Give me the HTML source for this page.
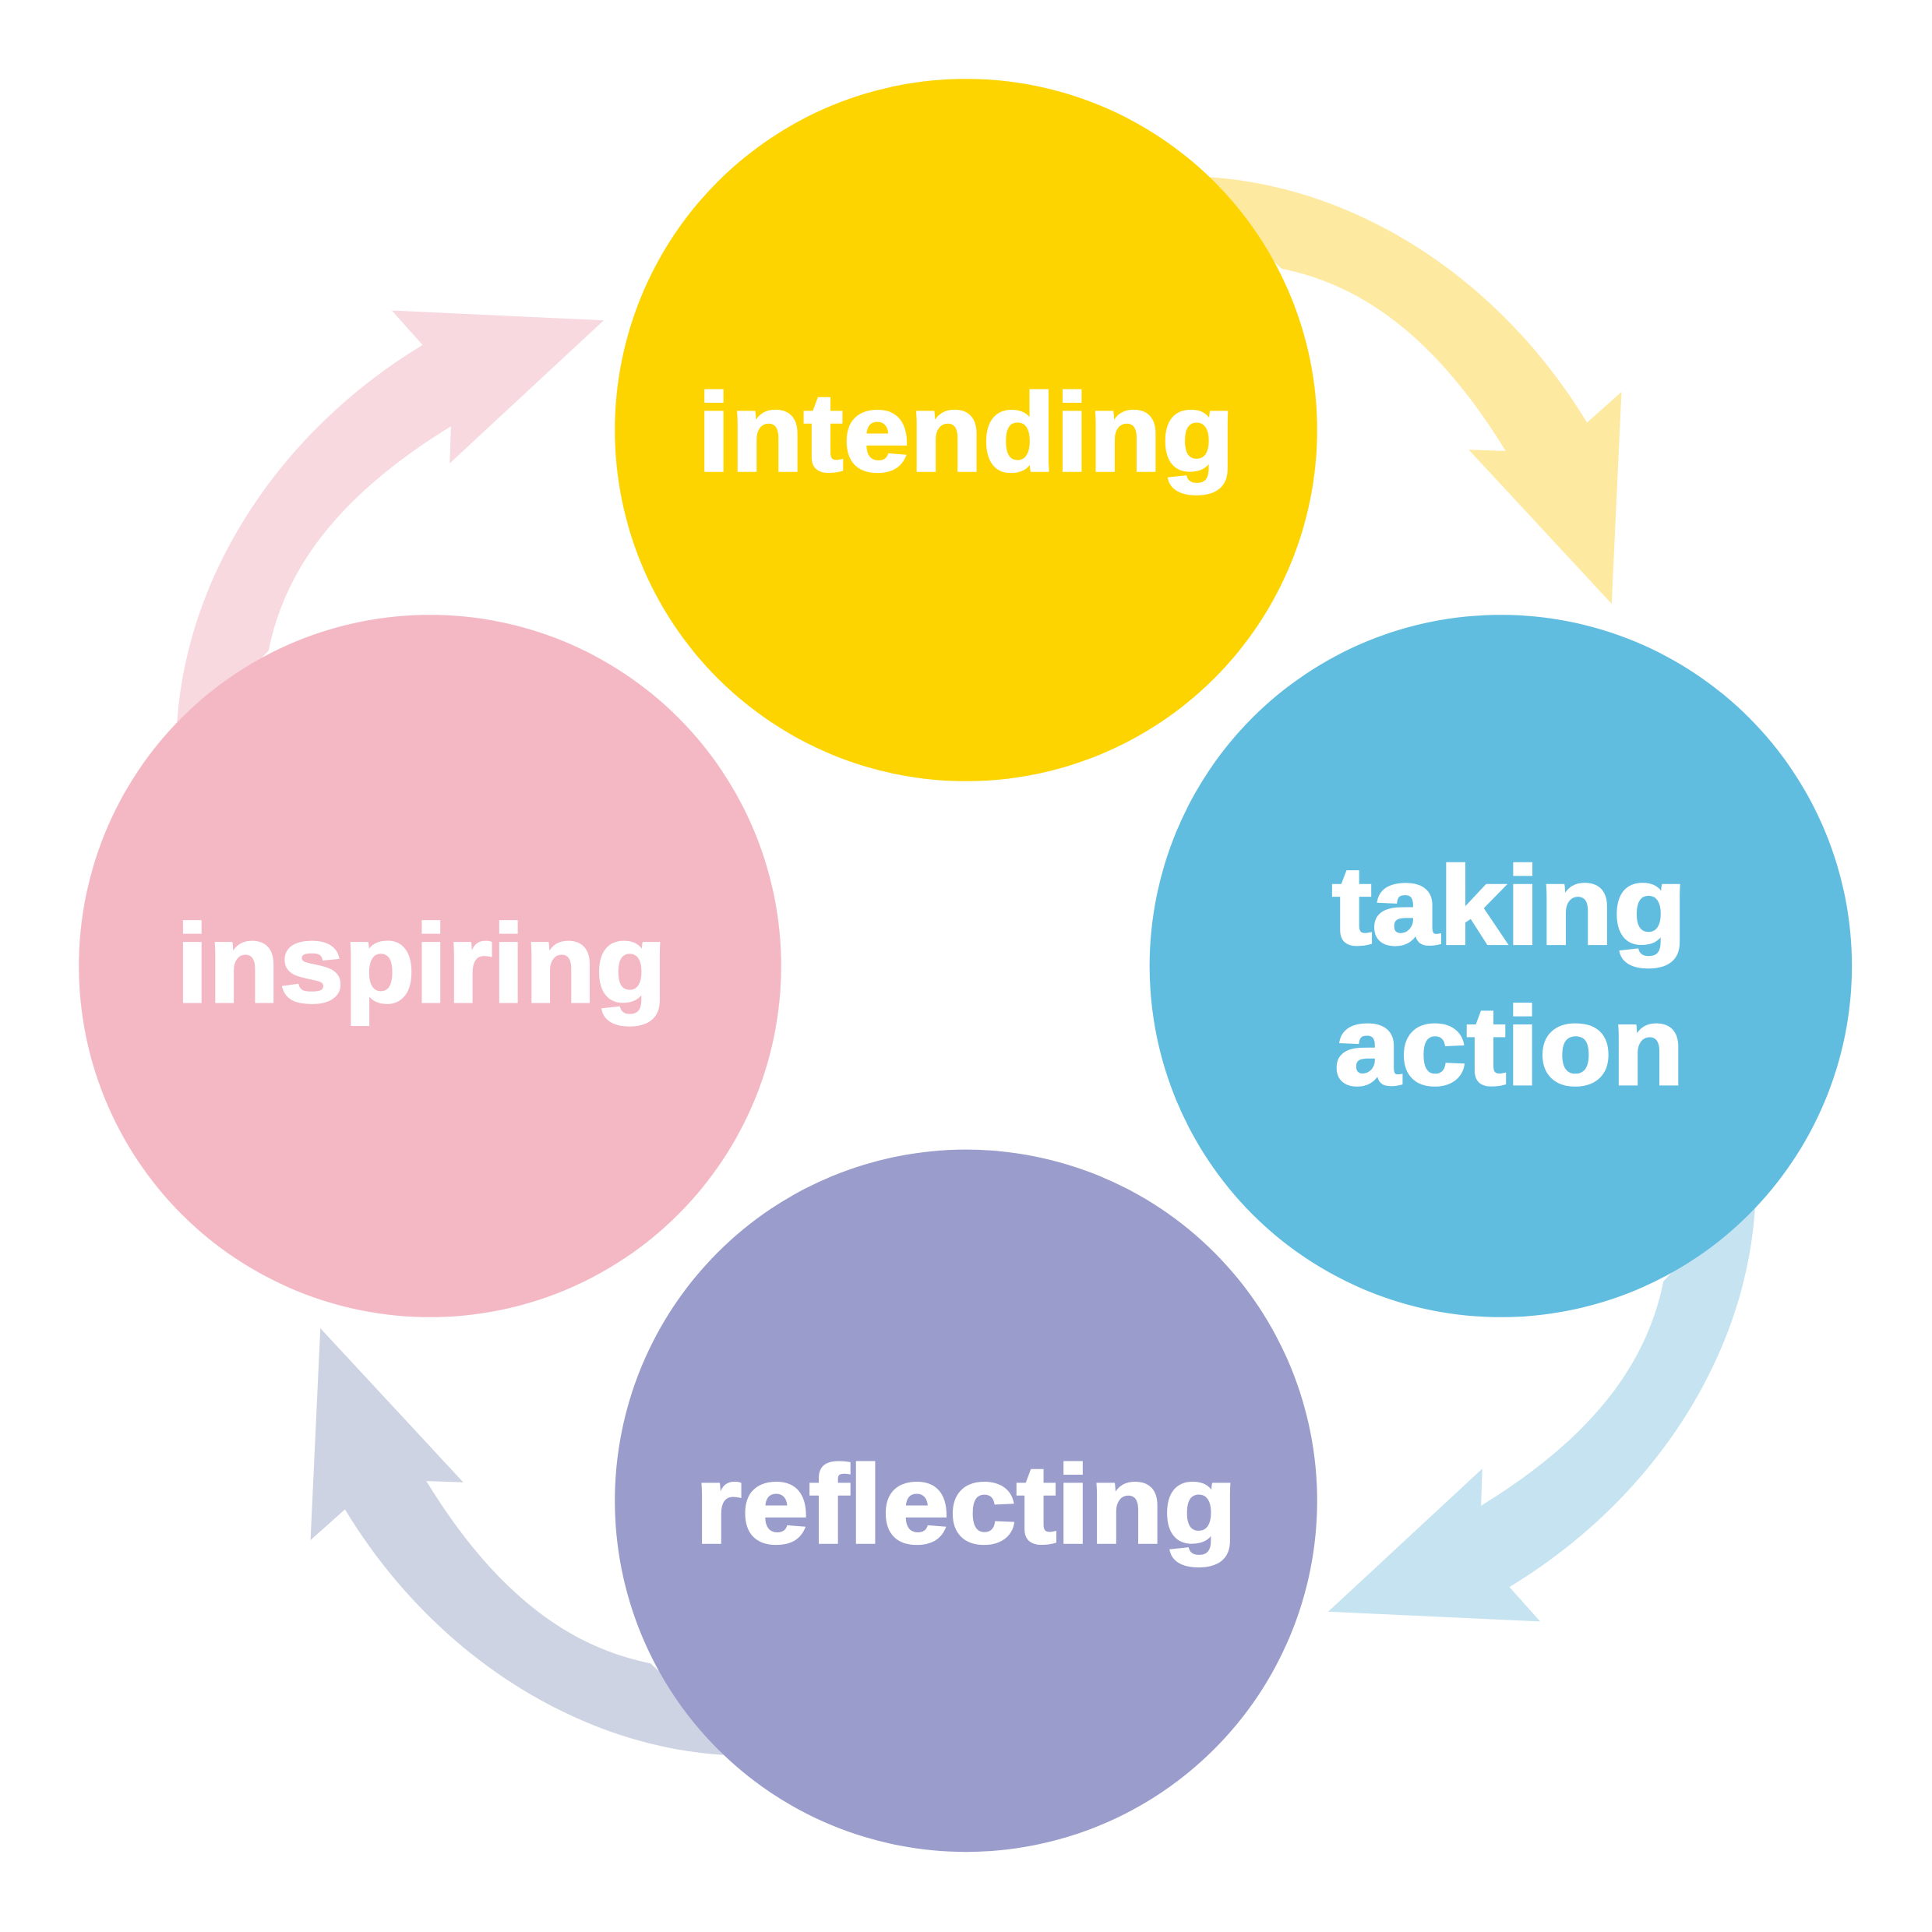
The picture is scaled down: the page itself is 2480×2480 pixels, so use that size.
<!DOCTYPE html>
<html><head><meta charset="utf-8"><style>html,body{margin:0;padding:0;background:#fff}svg{display:block}</style></head>
<body>
<svg width="2480" height="2480" viewBox="0 0 1568 1568" xmlns="http://www.w3.org/2000/svg">
<defs>
<path id="arr" d="M 960 143 C 1090 143 1215 222 1288 343 L 1316 318 L 1308 490 L 1192 365 L 1222 366 C 1162 268 1100 230 1040 218 Z"/>
</defs>
<use href="#arr" fill="#FEE9A0"/>
<use href="#arr" fill="#C5E3F0" transform="rotate(90 784 784)"/>
<use href="#arr" fill="#CDD3E3" transform="rotate(180 784 784)"/>
<use href="#arr" fill="#F7D9DF" transform="rotate(270 784 784)"/>
<circle cx="784" cy="349" r="285" fill="#FDD400"/>
<circle cx="1218" cy="784" r="285" fill="#61BDE0"/>
<circle cx="784" cy="1218" r="285" fill="#9A9DCB"/>
<circle cx="349" cy="784" r="285" fill="#F4B8C5"/>
<g font-family="Liberation Sans, sans-serif" font-weight="bold" font-size="90" fill="#fff" text-anchor="middle" stroke="#fff" stroke-width="2">
<text x="784" y="382" textLength="436" lengthAdjust="spacingAndGlyphs">intending</text>
<text x="1225" y="766" textLength="288" lengthAdjust="spacingAndGlyphs">taking</text>
<text x="1225" y="880" textLength="284" lengthAdjust="spacingAndGlyphs">action</text>
<text x="342" y="813" textLength="398" lengthAdjust="spacingAndGlyphs">inspiring</text>
<text x="784" y="1252" textLength="440" lengthAdjust="spacingAndGlyphs">reflecting</text>
</g>
</svg>
</body></html>
